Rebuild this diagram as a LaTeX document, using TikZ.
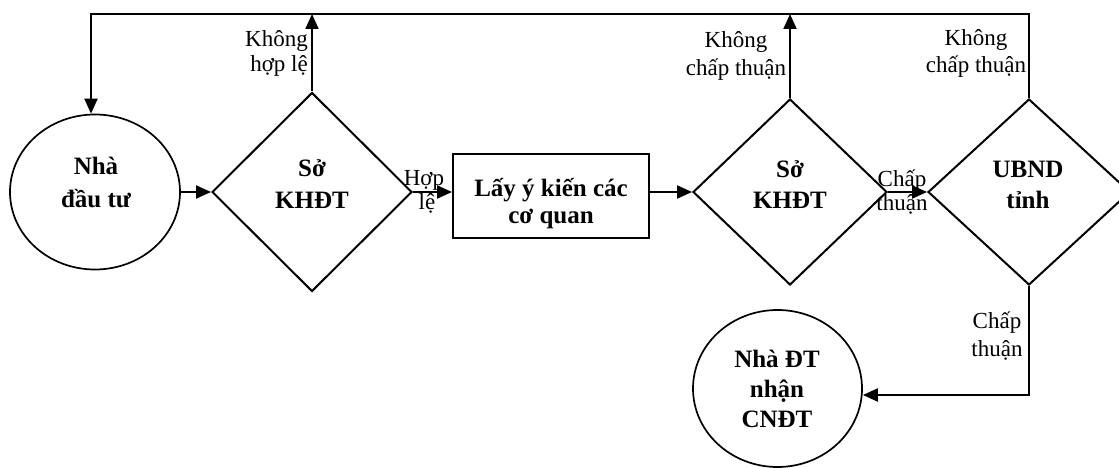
\documentclass[tikz,border=0pt]{standalone}
\usepackage{fontspec}
\setmainfont{Liberation Serif}
\usetikzlibrary{shapes.geometric,arrows.meta}
\tikzset{
  shp/.style={draw, line width=2pt, inner sep=0pt},
  circ/.style={draw, ellipse, line width=1.7pt, inner sep=0pt},
  conn/.style={line width=2pt, -{Triangle[length=15pt,width=13pt]}},
  bt/.style={font=\fontsize{25}{30}\selectfont\bfseries, anchor=base, inner sep=0pt},
  lt/.style={font=\fontsize{23}{26}\selectfont, anchor=base, inner sep=0pt},
  lte/.style={lt, anchor=base east},
}
\begin{document}
\begin{tikzpicture}[x=1pt,y=-1pt]
\useasboundingbox (0,0) rectangle (1119,468);
% shapes
\node[circ, minimum width=170pt, minimum height=155pt] (c1) at (95,192) {};
\node[shp, diamond, minimum width=200pt, minimum height=199pt] (d1) at (312,192) {};
\node[shp, rectangle, minimum width=196pt, minimum height=84pt] (box) at (551,196) {};
\node[shp, diamond, minimum width=194pt, minimum height=186pt] (d2) at (790,192) {};
\node[shp, diamond, minimum width=202pt, minimum height=186pt] (d3) at (1029,192) {};
\node[circ, minimum width=169pt, minimum height=157pt] (c2) at (777.5,388.5) {};
% shape texts
\node[bt] (c1a) at (96,175) {Nhà};
\node[bt] (c1b) at (96,207) {đầu tư};
\node[bt] (d1a) at (312,176) {Sở};
\node[bt] (d1b) at (312,208) {KHĐT};
\node[bt] (boxa) at (551,196) {Lấy ý kiến các};
\node[bt] (boxb) at (551,223) {cơ quan};
\node[bt] (d2a) at (790,178) {Sở};
\node[bt] (d2b) at (790,208) {KHĐT};
\node[bt] (d3a) at (1028,177) {UBND};
\node[bt] (d3b) at (1028,208) {tỉnh};
\node[bt] (c2a) at (777,367) {Nhà ĐT};
\node[bt] (c2b) at (777,397) {nhận};
\node[bt] (c2c) at (777,427) {CNĐT};
% coordinates
\coordinate (tl) at (91,14);
\coordinate (cb) at (1029,395);
% connectors
\draw[conn] (c1.east) -- (d1.west);
\draw[conn] (d1.east) -- (d1.east -| box.west);
\draw[conn] (d1.east -| box.east) -- (d2.west);
\draw[conn] (d2.east) -- (d3.west);
\draw[conn] (d1.north) -- (d1.north |- tl);
\draw[conn] (d2.north) -- (d2.north |- tl);
\draw[conn] (d3.north) -- (d3.north |- tl) -- (tl) -- (tl |- c1.north);
\draw[conn] (d3.south) -- (cb) -- (cb -| c2.east);
% labels
\node[lte] (l1a) at (308,47) {Không};
\node[lte] (l1b) at (308,72) {hợp lệ};
\node[lt] (l2a) at (736,48) {Không};
\node[lt] (l2b) at (736,76) {chấp thuận};
\node[lt] (l3a) at (976,46) {Không};
\node[lt] (l3b) at (976,73) {chấp thuận};
\node[lt] (l4a) at (424,185) {Hợp};
\node[lt] (l4b) at (427,209) {lệ};
\node[lt] (l5a) at (902,186) {Chấp};
\node[lt] (l5b) at (902,210) {thuận};
\node[lt] (l6a) at (997,328) {Chấp};
\node[lt] (l6b) at (997,356) {thuận};
\end{tikzpicture}
\end{document}
